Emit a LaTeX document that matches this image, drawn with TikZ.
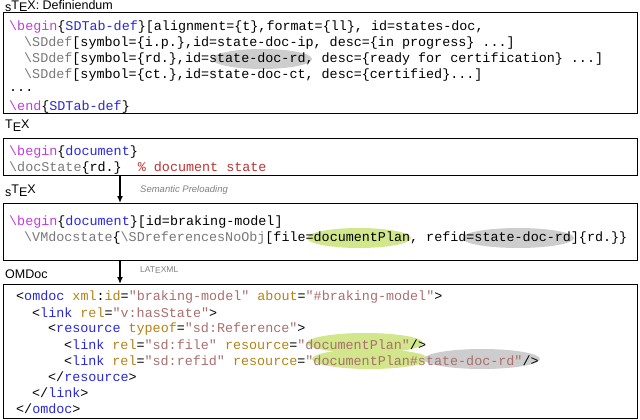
\documentclass[tikz,border=0pt]{standalone}
\usetikzlibrary{arrows.meta}
\usepackage{fontspec}
\setmainfont{Liberation Sans}
\newfontfamily\cmono{Liberation Mono}
\definecolor{kwp}{RGB}{190,60,220}
\definecolor{kwb}{RGB}{40,40,220}
\definecolor{mac}{RGB}{120,120,120}
\definecolor{cmt}{RGB}{190,50,50}
\definecolor{att}{RGB}{180,130,20}
\definecolor{val}{RGB}{170,110,110}
\definecolor{hlg}{RGB}{210,230,140}
\definecolor{hlr}{RGB}{205,205,205}
\newcommand{\BS}{\textbackslash}
\newcommand{\Pk}[1]{\textcolor{kwp}{#1}}
\newcommand{\Bk}[1]{\textcolor{kwb}{#1}}
\newcommand{\Mk}[1]{\textcolor{mac}{#1}}
\newcommand{\Ck}[1]{\textcolor{cmt}{#1}}
\newcommand{\Ak}[1]{\textcolor{att}{#1}}
\newcommand{\Vk}[1]{\textcolor{val}{#1}}
\newcommand{\stexlogo}{\raisebox{-.35ex}{s}T\raisebox{-.4ex}{E}X}
\newcommand{\texlogo}{T\raisebox{-.4ex}{E}X}
\begin{document}
\begin{tikzpicture}[x=1pt,y=-1pt,
  code/.style={anchor=west,inner sep=0pt,font=\cmono\fontsize{13.4}{14}\selectfont},
  lbl/.style={anchor=west,inner sep=0pt,font=\fontsize{12.5}{13}\selectfont},
  note/.style={anchor=west,inner sep=0pt,font=\itshape\fontsize{9.5}{10}\selectfont,text=gray},
  panel/.style={draw,line width=1pt},
  arr/.style={-{Latex[length=7pt,width=6pt]},line width=1.3pt}]
\useasboundingbox (0,0) rectangle (640,420);
% highlights
\fill[hlr] (262,59) ellipse (50 and 10);
\fill[hlg] (359,238) ellipse (52 and 10);
\fill[hlr] (518,238) ellipse (56 and 10);
\fill[hlg] (365,343) ellipse (58 and 10);
\fill[hlg] (370,359) ellipse (58 and 10);
\fill[hlr] (482,359) ellipse (58 and 10);
% panels
\draw[panel] (3,13) rectangle (637,113);
\draw[panel] (3,138) rectangle (637,175);
\draw[panel] (3,203) rectangle (637,260);
\draw[panel] (3,284) rectangle (637,418);
% labels
\node[lbl] (l1) at (5,6) {\stexlogo: Definiendum};
\node[lbl] (l2) at (5,126) {\texlogo};
\node[lbl] (l3) at (5,191) {\stexlogo};
\node[lbl] (l4) at (5,274) {OMDoc};
\node[note] (n1) at (140,190) {Semantic Preloading};
\node[note,font=\fontsize{8.5}{9}\selectfont] (n2) at (140,270) {LAT\raisebox{-.4ex}{E}XML};
\coordinate (a1s) at (120,175); \coordinate (a1e) at (120,203);
\coordinate (a2s) at (120,260); \coordinate (a2e) at (120,284);
\draw[arr] (a1s) -- (a1e);
\draw[arr] (a2s) -- (a2e);
% box1
\node[code] (c11) at (9,27) {\Pk{\BS begin}\{\Bk{SDTab-def}\}[alignment=\{t\},format=\{ll\}, id=states-doc,};
\node[code] (c12) at (24,43) {\Mk{\BS SDdef}[symbol=\{i.p.\},id=state-doc-ip, desc=\{in progress\} ...]};
\node[code] (c13) at (24,59) {\Mk{\BS SDdef}[symbol=\{rd.\},id=state-doc-rd, desc=\{ready for certification\} ...]};
\node[code] (c14) at (24,75) {\Mk{\BS SDdef}[symbol=\{ct.\},id=state-doc-ct, desc=\{certified\}...]};
\node[code] (c15) at (9,91) {...};
\node[code] (c16) at (9,107) {\Pk{\BS end}\{\Bk{SDTab-def}\}};
% box2
\node[code] (c21) at (9,152) {\Pk{\BS begin}\{\Bk{document}\}};
\node[code] (c22) at (9,168) {\Mk{\BS docState}\{rd.\}\ \ \Ck{\% document state}};
% box3
\node[code] (c31) at (9,222) {\Pk{\BS begin}\{\Bk{document}\}[id=braking-model]};
\node[code] (c32) at (24,238) {\Mk{\BS VMdocstate}\{\Mk{\BS SDreferencesNoObj}[file=documentPlan, refid=state-doc-rd]\{rd.\}\}};
% box4
\node[code] (c41) at (16,297) {<\Bk{omdoc} \Ak{xml}:\Ak{id}=\Vk{"braking-model"} \Ak{about}=\Vk{"\#braking-model"}>};
\node[code] (c42) at (32,313) {<\Bk{link} \Ak{rel}=\Vk{"v:hasState"}>};
\node[code] (c43) at (48,329) {<\Bk{resource} \Ak{typeof}=\Vk{"sd:Reference"}>};
\node[code] (c44) at (64,345) {<\Bk{link} \Ak{rel}=\Vk{"sd:file"} \Ak{resource}=\Vk{"documentPlan"}/>};
\node[code] (c45) at (64,361) {<\Bk{link} \Ak{rel}=\Vk{"sd:refid"} \Ak{resource}=\Vk{"documentPlan\#state-doc-rd"}/>};
\node[code] (c46) at (48,377) {</\Bk{resource}>};
\node[code] (c47) at (32,393) {</\Bk{link}>};
\node[code] (c48) at (16,409) {</\Bk{omdoc}>};
\end{tikzpicture}
\end{document}
